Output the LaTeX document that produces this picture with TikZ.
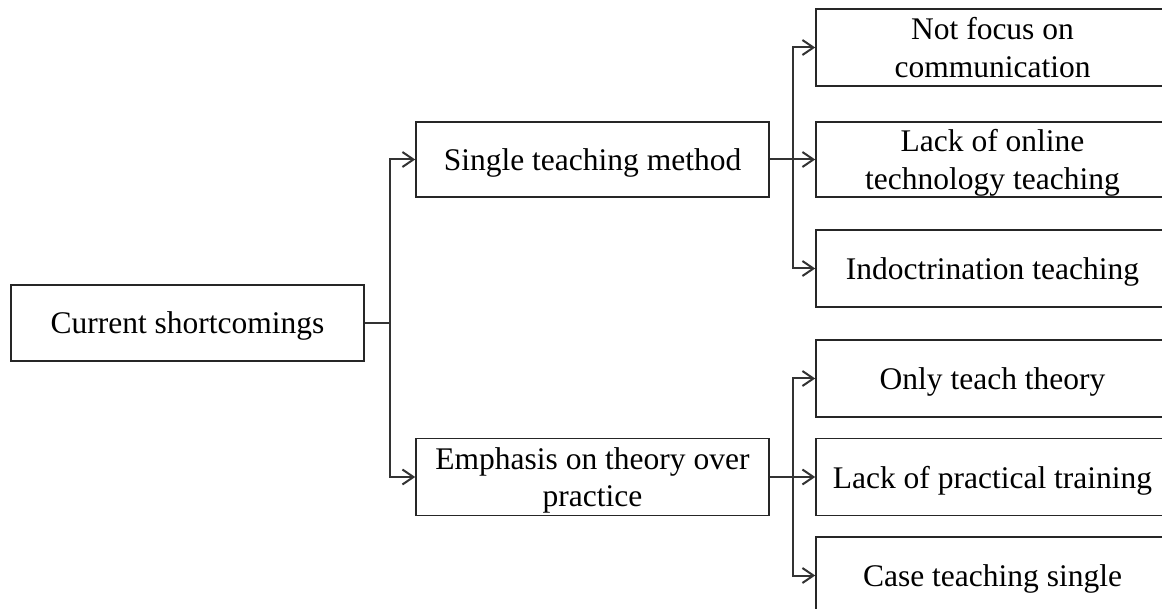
\documentclass[tikz,border=0pt]{standalone}
\usepackage{fontspec}
\setmainfont{Liberation Serif}
\usetikzlibrary{arrows.meta}
\begin{document}
\begin{tikzpicture}[x=1pt,y=-1pt,
  box/.style={draw=black!85, line width=1.6pt, rectangle, minimum width=353pt, inner sep=0pt,
    align=center, font=\fontsize{31.5}{37.5}\selectfont, text depth=0pt},
  conn/.style={draw=black!80, line width=2pt},
  arr/.style={conn, -{Straight Barb[length=11pt,width=15pt,line width=2pt]}}]
\clip (0,0) rectangle (1162,609);
\node[box, minimum height=76pt] (cur) at (187.5,323) {Current shortcomings};
\node[box, minimum height=75pt] (single) at (592.5,159.5) {Single teaching method};
\node[box, minimum height=77pt] (emph) at (592.5,477) {Emphasis on theory over\\practice};
\node[box, minimum height=77pt] (r1) at (992.5,47.5) {Not focus on\\communication};
\node[box, minimum height=75pt] (r2) at (992.5,159.5) {Lack of online\\technology teaching};
\node[box, minimum height=77pt] (r3) at (992.5,268.5) {Indoctrination teaching};
\node[box, minimum height=77pt] (r4) at (992.5,378.5) {Only teach theory};
\node[box, minimum height=77pt] (r5) at (992.5,477) {Lack of practical training};
\node[box, minimum height=77pt] (r6) at (992.5,575.5) {Case teaching single};
\draw[arr] (cur.east) -- ++(25,0) |- (single.west);
\draw[arr] (cur.east) -- ++(25,0) |- (emph.west);
\draw[arr] (single.east) -- ++(23,0) |- (r1.west);
\draw[arr] (single.east) -- (r2.west);
\draw[arr] (single.east) -- ++(23,0) |- (r3.west);
\draw[arr] (emph.east) -- ++(23,0) |- (r4.west);
\draw[arr] (emph.east) -- (r5.west);
\draw[arr] (emph.east) -- ++(23,0) |- (r6.west);
\end{tikzpicture}
\end{document}
